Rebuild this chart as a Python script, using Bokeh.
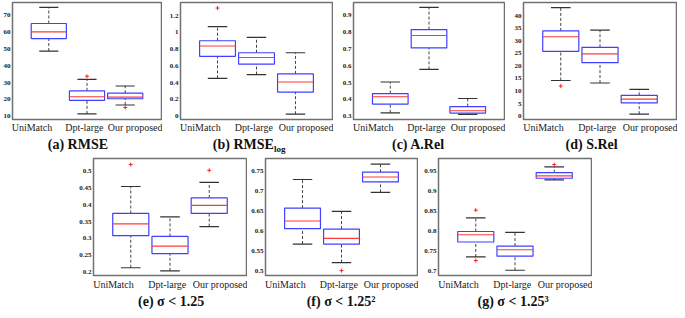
from bokeh.plotting import figure
from bokeh.layouts import column, row
from bokeh.models import FixedTicker, Range1d
from bokeh.core.properties import value
from bokeh.embed import file_html
from bokeh.resources import INLINE

methods = ["UniMatch", "Dpt-large", "Our proposed"]
positions = [1, 2, 3]
label_positions = [0.56, 1.93, 3.28]

# (a) RMSE
rmse_lo = [48.8, 11.4, 16.7]
rmse_q1 = [56.2, 19.5, 20.4]
rmse_med = [60.2, 21.6, 21.4]
rmse_q3 = [65.2, 25.1, 23.7]
rmse_hi = [74.8, 31.9, 28.0]
rmse_out_idx = [2, 3]
rmse_out_val = [33.8, 15.2]
rmse_ticks = [10, 20, 30, 40, 50, 60, 70]
rmse_tick_labels = ["10", "20", "30", "40", "50", "60", "70"]

# (b) RMSE_log
rlog_lo = [0.45, 0.496, 0.023]
rlog_q1 = [0.713, 0.62, 0.287]
rlog_med = [0.837, 0.70, 0.407]
rlog_q3 = [0.899, 0.756, 0.504]
rlog_hi = [1.068, 0.938, 0.756]
rlog_out_idx = [1]
rlog_out_val = [1.289]
rlog_ticks = [0, 0.2, 0.4, 0.6, 0.8, 1, 1.2]
rlog_tick_labels = ["0", "0.2", "0.4", "0.6", "0.8", "1", "1.2"]

# (c) A.Rel
arel_lo = [0.321, 0.579, 0.312]
arel_q1 = [0.373, 0.707, 0.319]
arel_med = [0.416, 0.781, 0.333]
arel_q3 = [0.435, 0.816, 0.358]
arel_hi = [0.504, 0.948, 0.406]
arel_out_idx = []
arel_out_val = []
arel_ticks = [0.3, 0.4, 0.5, 0.6, 0.7, 0.8, 0.9]
arel_tick_labels = ["0.3", "0.4", "0.5", "0.6", "0.7", "0.8", "0.9"]

# (d) S.Rel
srel_lo = [14.2, 13.2, 0.8]
srel_q1 = [25.8, 21.3, 5.3]
srel_med = [31.6, 24.8, 6.8]
srel_q3 = [33.9, 27.4, 8.3]
srel_hi = [43.2, 34.2, 10.7]
srel_out_idx = [1]
srel_out_val = [12.0]
srel_ticks = [0, 5, 10, 15, 20, 25, 30, 35, 40]
srel_tick_labels = ["0", "5", "10", "15", "20", "25", "30", "35", "40"]

# (e) sigma < 1.25
d1_lo = [0.213, 0.204, 0.335]
d1_q1 = [0.308, 0.255, 0.374]
d1_med = [0.343, 0.277, 0.398]
d1_q3 = [0.374, 0.306, 0.420]
d1_hi = [0.454, 0.364, 0.466]
d1_out_idx = [1, 3]
d1_out_val = [0.519, 0.502]
d1_ticks = [0.2, 0.25, 0.3, 0.35, 0.4, 0.45, 0.5]
d1_tick_labels = ["0.2", "0.25", "0.3", "0.35", "0.4", "0.45", "0.5"]

# (f) sigma < 1.25^2
d2_lo = [0.568, 0.522, 0.696]
d2_q1 = [0.606, 0.568, 0.722]
d2_med = [0.625, 0.582, 0.734]
d2_q3 = [0.657, 0.605, 0.746]
d2_hi = [0.728, 0.649, 0.766]
d2_out_idx = [2]
d2_out_val = [0.502]
d2_ticks = [0.5, 0.55, 0.6, 0.65, 0.7, 0.75]
d2_tick_labels = ["0.5", "0.55", "0.6", "0.65", "0.7", "0.75"]

# (g) sigma < 1.25^3
d3_lo = [0.736, 0.703, 0.927]
d3_q1 = [0.773, 0.738, 0.931]
d3_med = [0.791, 0.754, 0.937]
d3_q3 = [0.799, 0.763, 0.945]
d3_hi = [0.833, 0.797, 0.959]
d3_out_idx = [1, 1, 3]
d3_out_val = [0.852, 0.727, 0.965]
d3_ticks = [0.7, 0.75, 0.8, 0.85, 0.9, 0.95]
d3_tick_labels = ["0.7", "0.75", "0.8", "0.85", "0.9", "0.95"]

# captions
top_captions = ["(a) RMSE", "(b) RMSE", "(c) A.Rel", "(d) S.Rel"]
top_caption_x = [77.4, 273.4, 417.9, 591.1]
top_caption_align = ["center", "right", "center", "center"]
sub_caption = ["log"]
sub_caption_x = [273.4]
bottom_captions = ["(e) σ < 1.25", "(f) σ < 1.25²", "(g) σ < 1.25³"]
bottom_caption_x = [170.6, 340.6, 512.6]

FONT = "Liberation Serif"
XMIN, XMAX = 0.05, 3.95
BOXW = 0.92
CAPW = 0.5
TOTAL_W = 677


def panel(lo, q1, med, q3, hi, out_idx, out_val, ticks, tick_labels, ymin, ymax,
          width, height, left, right, top, bottom, x_standoff):
    p = figure(width=width, height=height, x_range=Range1d(XMIN, XMAX),
               y_range=Range1d(ymin, ymax), output_backend="svg",
               toolbar_location=None, min_border_left=left, min_border_right=right,
               min_border_top=top, min_border_bottom=bottom)
    p.grid.visible = False
    p.outline_line_color = "#707070"
    p.outline_line_width = 1.5
    p.background_fill_color = "white"
    p.border_fill_color = "white"

    xl = [x - BOXW / 2 for x in positions]
    xr = [x + BOXW / 2 for x in positions]
    cl = [x - CAPW / 2 for x in positions]
    cr = [x + CAPW / 2 for x in positions]

    p.segment(x0=positions, y0=q3, x1=positions, y1=hi, line_color="#444444",
              line_dash="3 2", line_width=1)
    p.segment(x0=positions, y0=lo, x1=positions, y1=q1, line_color="#444444",
              line_dash="3 2", line_width=1)
    p.segment(x0=cl, y0=hi, x1=cr, y1=hi, line_color="#333333", line_width=1.2)
    p.segment(x0=cl, y0=lo, x1=cr, y1=lo, line_color="#333333", line_width=1.2)
    p.quad(left=xl, right=xr, bottom=q1, top=q3, fill_color=None,
           line_color="#4040ff", line_width=1.2)
    p.segment(x0=xl, y0=med, x1=xr, y1=med, line_color="#ff3a3a", line_width=1.1)
    if out_val:
        p.scatter(x=[positions[i - 1] for i in out_idx], y=out_val, marker="cross",
                  size=4, line_color="#ff2020", line_width=1)

    p.axis.axis_line_color = None
    p.axis.major_tick_line_color = None
    p.axis.minor_tick_line_color = None
    p.axis.major_tick_out = 0
    p.axis.major_tick_in = 0
    p.axis.minor_tick_out = 0
    p.axis.minor_tick_in = 0

    p.yaxis.ticker = FixedTicker(ticks=ticks)
    p.yaxis.major_label_overrides = {t: s for t, s in zip(ticks, tick_labels)}
    p.yaxis.major_label_text_font = FONT
    p.yaxis.major_label_text_font_style = "bold"
    p.yaxis.major_label_text_font_size = "7px"
    p.yaxis.major_label_text_color = "#222222"
    p.yaxis.major_label_standoff = 2

    p.xaxis.ticker = FixedTicker(ticks=label_positions)
    p.xaxis.major_label_overrides = {t: s for t, s in zip(label_positions, methods)}
    p.xaxis.major_label_text_font = FONT
    p.xaxis.major_label_text_font_size = "10px"
    p.xaxis.major_label_text_color = "#222222"
    p.xaxis.major_label_standoff = x_standoff
    return p


def caption_strip(height):
    c = figure(width=TOTAL_W, height=height, x_range=Range1d(0, TOTAL_W),
               y_range=Range1d(0, height), output_backend="svg",
               toolbar_location=None, min_border=0)
    c.axis.visible = False
    c.grid.visible = False
    c.outline_line_color = None
    c.background_fill_color = "white"
    c.border_fill_color = "white"
    return c


TH, TT, TB = 136, 2, 17
BH, BT, BB = 137, 3, 17

pa = panel(rmse_lo, rmse_q1, rmse_med, rmse_q3, rmse_hi, rmse_out_idx, rmse_out_val,
           rmse_ticks, rmse_tick_labels, 8.06, 77.7, 162, TH, 10, 1, TT, TB, 2)
pb = panel(rlog_lo, rlog_q1, rlog_med, rlog_q3, rlog_hi, rlog_out_idx, rlog_out_val,
           rlog_ticks, rlog_tick_labels, -0.04, 1.355, 171, TH, 18, 1, TT, TB, 2)
pc = panel(arel_lo, arel_q1, arel_med, arel_q3, arel_hi, arel_out_idx, arel_out_val,
           arel_ticks, arel_tick_labels, 0.281, 0.977, 172, TH, 20, 1, TT, TB, 2)
pd_ = panel(srel_lo, srel_q1, srel_med, srel_q3, srel_hi, srel_out_idx, srel_out_val,
            srel_ticks, srel_tick_labels, -1.3, 45.2, 172, TH, 18, 1, TT, TB, 2)

pe = panel(d1_lo, d1_q1, d1_med, d1_q3, d1_hi, d1_out_idx, d1_out_val,
           d1_ticks, d1_tick_labels, 0.19, 0.537, 247, BH, 93, 1, BT, BB, 3)
pf = panel(d2_lo, d2_q1, d2_med, d2_q3, d2_hi, d2_out_idx, d2_out_val,
           d2_ticks, d2_tick_labels, 0.49, 0.78, 171, BH, 18, 1, BT, BB, 3)
pg = panel(d3_lo, d3_q1, d3_med, d3_q3, d3_hi, d3_out_idx, d3_out_val,
           d3_ticks, d3_tick_labels, 0.69, 0.98, 174, BH, 20, 1, BT, BB, 3)

cap_top = caption_strip(19)
cap_top.text(x=top_caption_x, y=[10.7] * len(top_captions), text=top_captions,
             text_align=top_caption_align, text_baseline="middle",
             text_font=value(FONT), text_font_style="bold",
             text_font_size=value("14px"), text_color="#111111")
cap_top.text(x=sub_caption_x, y=[6.7], text=sub_caption, text_align="left",
             text_baseline="middle", text_font=value(FONT), text_font_style="bold",
             text_font_size=value("9px"), text_color="#111111")

cap_bot = caption_strip(18)
cap_bot.text(x=bottom_caption_x, y=[8.8] * len(bottom_captions), text=bottom_captions,
             text_align="center", text_baseline="middle", text_font=value(FONT),
             text_font_style="bold", text_font_size=value("14px"),
             text_color="#111111")

layout = column(row(pa, pb, pc, pd_), cap_top, row(pe, pf, pg), cap_bot)

open("out.html", "w").write(file_html(layout, INLINE))
